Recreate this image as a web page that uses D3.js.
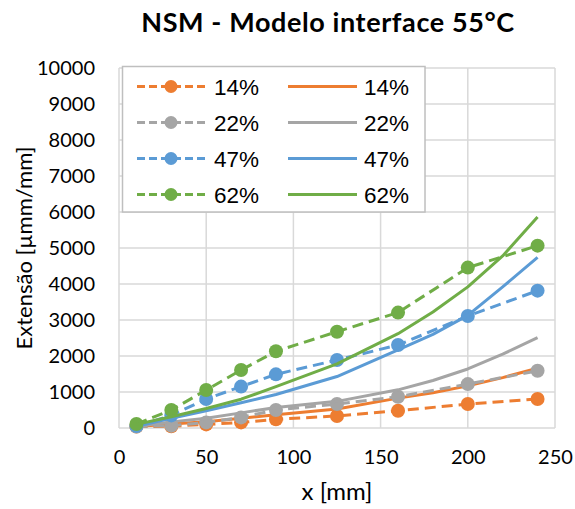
<!DOCTYPE html>
<html>
<head>
<meta charset="utf-8">
<script src="https://cdn.jsdelivr.net/npm/d3@7"></script>
<style>
  html, body { margin: 0; padding: 0; background: #fff; }
  svg { display: block; }
</style>
</head>
<body>
<div id="chart"></div>
<script>
// Measured strain along the anchorage (dashed, markers) and model curves (solid)
const xMeasured = [10, 30, 50, 70, 90, 125, 160, 200, 240];
const meas14 = [40, 50, 100, 155, 240, 335, 480, 665, 805];
const meas22 = [40, 65, 155, 295, 500, 665, 870, 1220, 1590];
const meas47 = [55, 350, 805, 1150, 1490, 1890, 2305, 3110, 3815];
const meas62 = [110, 500, 1055, 1610, 2130, 2675, 3205, 4455, 5065];

const xModel = [10, 30, 50, 70, 90, 125, 160, 180, 200, 220, 240];
const model14 = [40, 110, 175, 270, 370, 530, 830, 980, 1170, 1400, 1660];
const model22 = [40, 170, 270, 420, 570, 740, 1060, 1320, 1640, 2050, 2510];
const model47 = [50, 270, 480, 700, 930, 1430, 2170, 2600, 3130, 3920, 4740];
const model62 = [100, 310, 540, 800, 1150, 1780, 2620, 3220, 3920, 4780, 5860];

const seriesLabels = ["14%", "22%", "47%", "62%"];
const seriesColors = ["#ED7D31", "#A5A5A5", "#5B9BD5", "#70AD47"];
const xTicks = [0, 50, 100, 150, 200, 250];
const yTicks = [0, 1000, 2000, 3000, 4000, 5000, 6000, 7000, 8000, 9000, 10000];

const titleText = "NSM - Modelo interface 55°C";
const xTitle = "x [mm]";
const yTitle = "Extensão [µmm/mm]";

const W = 575, H = 509;
const plot = { left: 119, right: 555, top: 68, bottom: 428 };

const svg = d3.select("#chart").append("svg").attr("width", W).attr("height", H);

const x = d3.scaleLinear().domain([0, 250]).range([plot.left, plot.right]);
const y = d3.scaleLinear().domain([0, 10000]).range([plot.bottom, plot.top]);

const gridColor = "#D9D9D9";
const tickFont = "Lato, 'Open Sans', sans-serif";

// Grid
svg.append("g").selectAll("line").data(yTicks).join("line")
  .attr("x1", plot.left).attr("x2", plot.right)
  .attr("y1", d => y(d)).attr("y2", d => y(d))
  .attr("stroke", gridColor).attr("stroke-width", 1.5);
svg.append("g").selectAll("line").data(xTicks).join("line")
  .attr("y1", plot.top).attr("y2", plot.bottom)
  .attr("x1", d => x(d)).attr("x2", d => x(d))
  .attr("stroke", gridColor).attr("stroke-width", 1.5);

// Axes (labels only)
const yAxis = d3.axisLeft(y).tickValues(yTicks).tickFormat(d3.format("d")).tickSize(0).tickPadding(24);
const gy = svg.append("g").attr("transform", `translate(${plot.left},0)`).call(yAxis);
gy.select(".domain").remove();
gy.selectAll("text").attr("font-family", tickFont).attr("font-size", 20).attr("fill", "#000");

const xAxis = d3.axisBottom(x).tickValues(xTicks).tickFormat(d3.format("d")).tickSize(0).tickPadding(22);
const gx = svg.append("g").attr("transform", `translate(0,${plot.bottom})`).call(xAxis);
gx.select(".domain").remove();
gx.selectAll("text").attr("font-family", tickFont).attr("font-size", 20).attr("fill", "#000");

// Series
const measured = [meas14, meas22, meas47, meas62];
const model = [model14, model22, model47, model62];
const line = d3.line().x(d => x(d[0])).y(d => y(d[1]));

seriesLabels.forEach((lab, i) => {
  const c = seriesColors[i];
  const mPts = xMeasured.map((xv, k) => [xv, measured[i][k]]);
  svg.append("path").datum(mPts).attr("d", line)
    .attr("fill", "none").attr("stroke", c).attr("stroke-width", 3)
    .attr("stroke-dasharray", "11,6");
  svg.append("g").selectAll("circle").data(mPts).join("circle")
    .attr("cx", d => x(d[0])).attr("cy", d => y(d[1])).attr("r", 7).attr("fill", c);

  const sPts = xModel.map((xv, k) => [xv, model[i][k]]);
  svg.append("path").datum(sPts).attr("d", line)
    .attr("fill", "none").attr("stroke", c).attr("stroke-width", 3)
    .attr("stroke-linejoin", "round");
});

// Legend
const lg = svg.append("g");
lg.append("rect").attr("x", 122.5).attr("y", 66.5).attr("width", 302.5).attr("height", 145.5)
  .attr("fill", "#fff").attr("stroke", "#BFBFBF").attr("stroke-width", 1.5);
const rowY = [86.5, 122.5, 158.5, 194.5];
seriesLabels.forEach((lab, i) => {
  const c = seriesColors[i];
  const yy = rowY[i];
  lg.append("line").attr("x1", 137).attr("x2", 207).attr("y1", yy).attr("y2", yy)
    .attr("stroke", c).attr("stroke-width", 3).attr("stroke-dasharray", "8,4");
  lg.append("circle").attr("cx", 171).attr("cy", yy).attr("r", 6.5).attr("fill", c);
  lg.append("text").attr("x", 214).attr("y", yy).attr("dy", "0.36em")
    .attr("font-family", "'Liberation Sans', Arial, sans-serif").attr("font-size", 22.5)
    .text(lab);
  lg.append("line").attr("x1", 288).attr("x2", 357).attr("y1", yy).attr("y2", yy)
    .attr("stroke", c).attr("stroke-width", 3);
  lg.append("text").attr("x", 364).attr("y", yy).attr("dy", "0.36em")
    .attr("font-family", "'Liberation Sans', Arial, sans-serif").attr("font-size", 22.5)
    .text(lab);
});

// Titles
svg.append("text").attr("x", 328).attr("y", 23).attr("dy", "0.35em")
  .attr("text-anchor", "middle").attr("font-family", tickFont)
  .attr("font-weight", "bold").attr("font-size", 27).attr("letter-spacing", 0.6)
  .text(titleText);

svg.append("text").attr("x", (plot.left + plot.right) / 2).attr("y", 492).attr("dy", "0.35em")
  .attr("text-anchor", "middle").attr("font-family", tickFont)
  .attr("font-size", 24).text(xTitle);

svg.append("text")
  .attr("transform", `translate(24,${(plot.top + plot.bottom) / 2}) rotate(-90)`)
  .attr("dy", "0.35em").attr("text-anchor", "middle").attr("font-family", tickFont)
  .attr("font-size", 22).text(yTitle);
</script>
</body>
</html>
